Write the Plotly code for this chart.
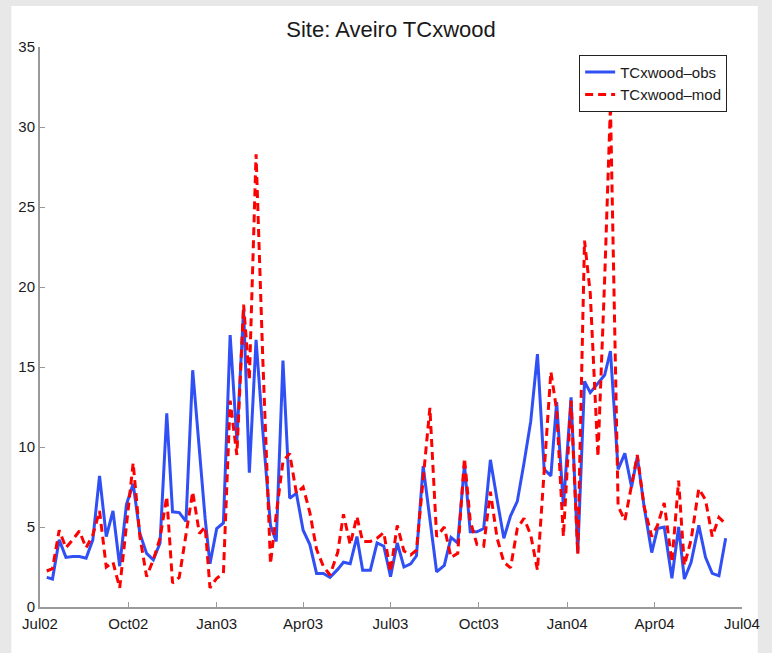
import plotly.graph_objects as go

# Sampling dates shared by the observed and modelled series
sample_dates = [
    "2002-07-08", "2002-07-14", "2002-07-21", "2002-07-28", "2002-08-04", "2002-08-11",
    "2002-08-18", "2002-08-25", "2002-09-01", "2002-09-08", "2002-09-15", "2002-09-22",
    "2002-09-29", "2002-10-06", "2002-10-13", "2002-10-20", "2002-10-27", "2002-11-03",
    "2002-11-10", "2002-11-16", "2002-11-23", "2002-11-30", "2002-12-07", "2002-12-14",
    "2002-12-20", "2002-12-25", "2003-01-01", "2003-01-08", "2003-01-15", "2003-01-22",
    "2003-01-29", "2003-02-04", "2003-02-11", "2003-02-18", "2003-02-26", "2003-03-04",
    "2003-03-11", "2003-03-18", "2003-03-25", "2003-04-01", "2003-04-08", "2003-04-15",
    "2003-04-22", "2003-04-29", "2003-05-07", "2003-05-13", "2003-05-20", "2003-05-27",
    "2003-06-02", "2003-06-10", "2003-06-17", "2003-06-24", "2003-07-01", "2003-07-08",
    "2003-07-15", "2003-07-22", "2003-07-28", "2003-08-04", "2003-08-11", "2003-08-18",
    "2003-08-26", "2003-09-02", "2003-09-09", "2003-09-16", "2003-09-22", "2003-09-29",
    "2003-10-06", "2003-10-13", "2003-10-20", "2003-10-27", "2003-11-03", "2003-11-10",
    "2003-11-17", "2003-11-24", "2003-12-01", "2003-12-08", "2003-12-15", "2003-12-21",
    "2003-12-28", "2004-01-05", "2004-01-12", "2004-01-19", "2004-01-25", "2004-02-02",
    "2004-02-09", "2004-02-15", "2004-02-23", "2004-03-01", "2004-03-08", "2004-03-14",
    "2004-03-21", "2004-03-29", "2004-04-04", "2004-04-11", "2004-04-19", "2004-04-26",
    "2004-05-02", "2004-05-09", "2004-05-17", "2004-05-24", "2004-05-31", "2004-06-07",
    "2004-06-14",
]

# Observed TCxwood
obs_values = [
    1.85, 1.75, 4.2, 3.1, 3.15, 3.15, 3.05, 4.2, 8.2, 4.4, 6.0, 2.55,
    6.4, 7.7, 4.6, 3.35, 2.95, 4.0, 12.1, 5.95, 5.9, 5.35, 14.8, 10.0,
    5.5, 2.7, 4.9, 5.25, 17.0, 10.4, 18.6, 8.4, 16.7, 11.0, 5.1, 4.1,
    15.4, 6.8, 7.1, 4.8, 3.9, 2.1, 2.1, 1.85, 2.35, 2.8, 2.7, 4.4,
    2.3, 2.3, 4.0, 3.8, 1.9, 4.0, 2.5, 2.7, 3.2, 8.8, 5.5, 2.2,
    2.6, 4.35, 4.0, 8.9, 4.7, 4.7, 4.9, 9.2, 6.7, 4.3, 5.7, 6.6,
    9.0, 11.6, 15.8, 8.6, 8.2, 12.8, 6.3, 13.1, 3.4, 14.1, 13.4, 14.0,
    14.5, 16.0, 8.6, 9.6, 7.5, 9.4, 6.3, 3.4, 4.9, 5.0, 1.8, 5.0,
    1.75, 2.8, 5.1, 3.1, 2.1, 1.95, 4.3,
]

# Modelled TCxwood
mod_values = [
    2.25, 2.4, 4.8, 3.7, 4.2, 4.75, 3.7, 4.5, 6.0, 2.5, 2.8, 1.2,
    5.1, 9.0, 4.4, 1.9, 2.95, 4.3, 6.9, 1.5, 1.85, 4.4, 7.2, 4.6,
    5.0, 1.2, 1.8, 2.1, 12.9, 9.5, 18.9, 14.2, 28.3, 15.5, 2.7, 5.8,
    9.1, 9.6, 7.1, 7.5, 5.9, 3.6, 2.55, 2.0, 3.4, 5.8, 3.9, 5.65,
    4.1, 4.1, 4.3, 4.65, 2.2, 5.1, 3.5, 3.25, 3.55, 8.0, 12.45, 4.4,
    5.0, 3.1, 3.35, 9.3, 5.4, 3.9, 3.8, 7.2, 4.3, 2.8, 2.45, 4.9,
    5.55, 4.5, 2.3, 8.5, 14.7, 12.3, 4.4, 12.9, 3.3, 22.9, 19.6, 9.4,
    20.5, 31.4, 6.3, 5.4, 7.6, 9.5, 6.3, 4.4, 5.1, 6.5, 2.8, 7.9,
    2.6, 4.2, 7.4, 6.7, 4.4, 5.6, 5.2,
]

x_tick_dates = ["2002-07-01", "2002-10-01", "2003-01-01", "2003-04-01", "2003-07-01",
                "2003-10-01", "2004-01-01", "2004-04-01", "2004-07-01"]
x_tick_labels = ["Jul02", "Oct02", "Jan03", "Apr03", "Jul03",
                 "Oct03", "Jan04", "Apr04", "Jul04"]
y_ticks = [0, 5, 10, 15, 20, 25, 30, 35]

FONT = "Liberation Sans, Arial, sans-serif"

fig = go.Figure()
fig.add_trace(go.Scatter(
    x=sample_dates, y=obs_values, mode="lines", name="TCxwood\u2013obs",
    line=dict(color="#3050f5", width=3),
))
fig.add_trace(go.Scatter(
    x=sample_dates, y=mod_values, mode="lines", name="TCxwood\u2013mod",
    line=dict(color="#ff0000", width=3, dash="8px,5px"),
))

axis_common = dict(
    showgrid=False, zeroline=False, showline=True, linecolor="#9a9a9a", linewidth=2,
    ticks="inside", ticklen=5, tickwidth=1, tickcolor="#9a9a9a",
    tickfont=dict(family=FONT, size=15, color="#1a1a1a"), mirror=False,
)

fig.update_layout(
    width=772, height=653, autosize=False,
    margin=dict(l=40, r=20, t=47, b=46),
    paper_bgcolor="#e8e8e8", plot_bgcolor="white",
    font=dict(family=FONT, color="#1a1a1a"),
    title=dict(text="Site: Aveiro TCxwood", x=0.5, xref="paper", xanchor="center",
               y=1 - 29 / 653, yanchor="middle",
               font=dict(family=FONT, size=22, color="#1a1a1a")),
    xaxis=dict(type="date", range=["2002-07-01", "2004-07-01"],
               tickvals=x_tick_dates, ticktext=x_tick_labels,
               ticklabelstandoff=2, **axis_common),
    yaxis=dict(range=[0, 35], tickvals=y_ticks, **axis_common),
    legend=dict(x=0.768, y=0.986, xanchor="left", yanchor="top",
                bgcolor="white", bordercolor="#222", borderwidth=1,
                font=dict(family=FONT, size=15, color="#1a1a1a"),
                itemwidth=30, tracegroupgap=0),
    showlegend=True,
    shapes=[dict(type="rect", xref="paper", yref="paper",
                 x0=-29 / 712, x1=728 / 712, y0=-46 / 560, y1=601 / 560,
                 fillcolor="white", line=dict(width=0), layer="below")],
)

fig.write_html("out.html")
